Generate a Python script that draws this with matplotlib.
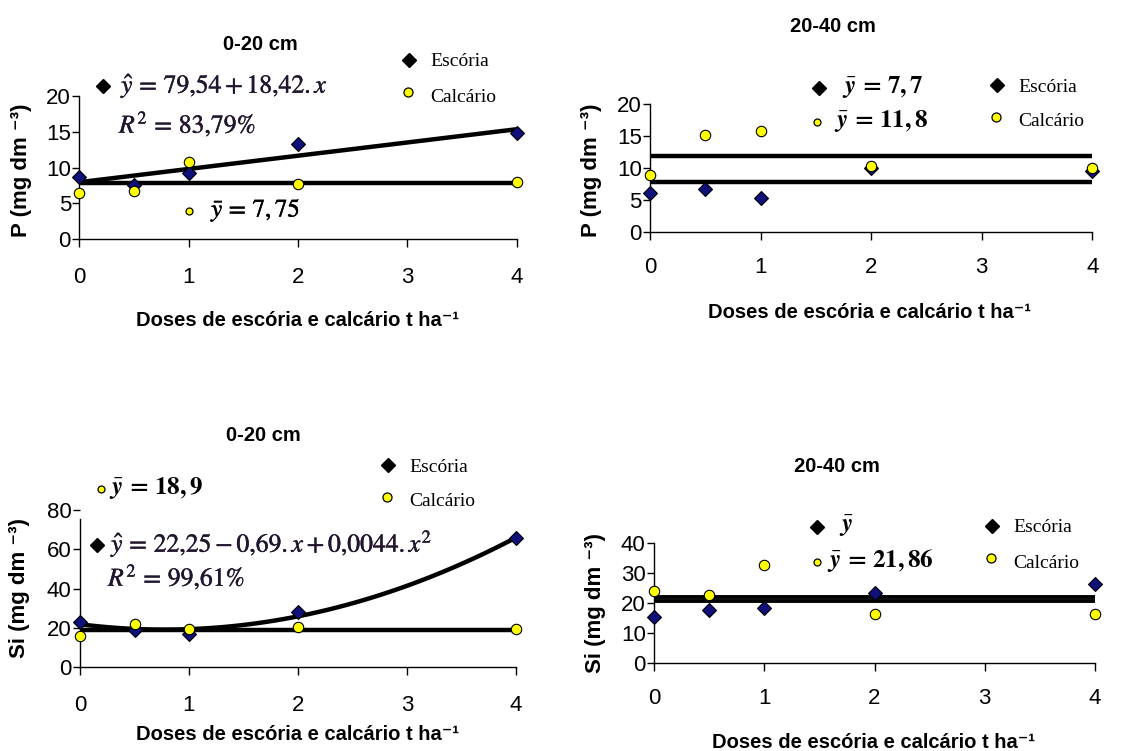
import numpy as np
import matplotlib
matplotlib.use("Agg")
import matplotlib.pyplot as plt
import matplotlib.patheffects as pe

plt.rcParams['font.family'] = ['Liberation Sans', 'DejaVu Sans']
plt.rcParams['mathtext.fontset'] = 'stix'

# ---------------- data ----------------
doses = [0, 0.5, 1, 2, 4]
x_ticks = [0, 1, 2, 3, 4]

p020_escoria = [8.7, 7.5, 9.3, 13.3, 14.8]
p020_calcario = [6.5, 6.7, 10.7, 7.75, 8.0]
p020_calc_mean = 7.9

p2040_escoria = [6.1, 6.8, 5.4, 10.0, 9.5]
p2040_calcario = [9.0, 15.1, 15.8, 10.4, 10.1]
p2040_esc_mean = 7.8
p2040_calc_mean = 11.95

si020_escoria = [23.2, 19.0, 16.8, 28.1, 65.6]
si020_calcario = [15.9, 22.0, 19.7, 20.7, 19.3]
si020_calc_mean = 19.0

si2040_escoria = [15.3, 17.6, 18.2, 23.3, 26.4]
si2040_calcario = [23.8, 22.6, 32.6, 16.4, 16.4]
si2040_esc_mean = 20.5
si2040_calc_mean = 21.9

p_yticks = [0, 5, 10, 15, 20]
si020_yticks = [0, 20, 40, 60, 80]
si2040_yticks = [0, 10, 20, 30, 40]

W, H = 1147, 751
fig = plt.figure(figsize=(W / 100, H / 100), dpi=100)

NAVY = '#10107a'
YEL = '#ffff00'
EQC = '#22162e'
EQ_FX = [pe.withStroke(linewidth=0.3, foreground=EQC)]


def fx(x):
    return x / W


def fy(y):
    return 1 - y / H


def make_ax(x0, x1, y0, y1, ylim, yticks, xpad):
    ax = fig.add_axes([fx(x0), fy(y1), fx(x1 - x0), (y1 - y0) / H])
    ax.set_xlim(0, 4)
    ax.set_ylim(*ylim)
    for s in ['top', 'right']:
        ax.spines[s].set_visible(False)
    for s in ['left', 'bottom']:
        ax.spines[s].set_linewidth(1.0)
        ax.spines[s].set_color('black')
    ax.set_xticks(x_ticks)
    ax.set_yticks(yticks)
    ax.tick_params(axis='x', direction='out', length=6, width=1, labelsize=16, pad=xpad)
    ax.tick_params(axis='y', direction='out', length=5, width=1, labelsize=16, pad=1)
    ax.patch.set_alpha(0)
    return ax


def scatter_pts(ax, esc, calc):
    ax.plot(doses, esc, linestyle='none', marker='D', ms=6.8, mfc=NAVY, mec='black', mew=0.8,
            clip_on=False, zorder=4)
    ax.plot(doses, calc, linestyle='none', marker='o', ms=7.5, mfc=YEL, mec='black', mew=0.8,
            clip_on=False, zorder=5)


def hline(ax, level, lw=3.2):
    ax.plot([0, 4], [level, level], color='black', lw=lw, solid_capstyle='butt', zorder=3)


def fig_marker(x, y, kind, size):
    if kind == 'D':
        fig.add_artist(plt.Line2D([fx(x)], [fy(y)], marker='D', ms=size, mfc='black', mec='black',
                                  linestyle='none', transform=fig.transFigure))
    else:
        fig.add_artist(plt.Line2D([fx(x)], [fy(y)], marker='o', ms=size, mfc=YEL, mec='black', mew=0.9,
                                  linestyle='none', transform=fig.transFigure))


def legend(xm, ye, yc, xt):
    fig_marker(xm, ye, 'D', 6.8)
    fig_marker(xm - 1, yc, 'o', 6.5)
    fig.text(fx(xt), fy(ye + 2), 'Escória', family='Liberation Serif', fontsize=14, va='center', ha='left')
    fig.text(fx(xt), fy(yc + 5), 'Calcário', family='Liberation Serif', fontsize=14, va='center', ha='left')


def eq(x, y, s, size=18.5):
    fig.text(fx(x), fy(y), s, fontsize=size, color=EQC, va='center', path_effects=EQ_FX)


def ybar(x, y, s, size=18):
    fig.text(fx(x), fy(y), s, fontsize=size, va='center', color='black')


bold = dict(fontweight='bold', fontsize=14.5)
ybold = dict(fontweight='bold', fontsize=16)
xlabel = 'Doses de escória e calcário t ha⁻¹'
BY = r'\bar{\mathbfit{y}}'

# ---------------- panel 1: P 0-20 ----------------
ax1 = make_ax(79.3, 516.7, 95.7, 239.3, (0, 20), p_yticks, 14)
scatter_pts(ax1, p020_escoria, p020_calcario)
hline(ax1, p020_calc_mean)
xx = np.linspace(0, 4, 50)
c1 = np.polyfit(doses, p020_escoria, 1)
ax1.plot(xx, np.polyval(c1, xx), color='black', lw=3.2, zorder=3)
fig.text(fx(260), fy(45), '0-20 cm', ha='center', va='center', **bold)
legend(409, 60, 92, 430)
fig_marker(103, 86, 'D', 6.8)
eq(121, 86, r'$\hat{y}\,=\,79{,}54+18{,}42.x$')
eq(119, 124, r'$R^{2}\,=\,83{,}79\%$')
fig_marker(189, 211, 'o', 5)
fig.text(fx(211), fy(210), r'$\bar{y}\,=\,7,75$', fontsize=18, va='center',
         path_effects=[pe.withStroke(linewidth=0.35, foreground='black')])
fig.text(fx(297), fy(320), xlabel, ha='center', va='center', **bold)
fig.text(fx(22), fy(170), 'P (mg dm ⁻³)', rotation=90, ha='center', va='center', **ybold)

# ---------------- panel 2: P 20-40 ----------------
ax2 = make_ax(650, 1092.3, 104, 232.3, (0, 20), p_yticks, 12)
hline(ax2, p2040_calc_mean)
hline(ax2, p2040_esc_mean)
scatter_pts(ax2, p2040_escoria, p2040_calcario)
fig.text(fx(833), fy(27), '20-40 cm', ha='center', va='center', **bold)
legend(997, 85, 117, 1018)
fig_marker(819, 88, 'D', 6.8)
ybar(842, 87, r'$' + BY + r'\,\mathbf{=\,7,7}$')
fig_marker(817, 122, 'o', 5)
ybar(834, 121, r'$' + BY + r'\,\mathbf{=\,11,8}$')
fig.text(fx(870), fy(312), xlabel, ha='center', va='center', **bold)
fig.text(fx(592), fy(170), 'P (mg dm ⁻³)', rotation=90, ha='center', va='center', **ybold)

# ---------------- panel 3: Si 0-20 ----------------
ax3 = make_ax(80, 516, 510, 667.3, (0, 80), si020_yticks, 14)
ax3.spines['left'].set_bounds(0, 75.4)
hline(ax3, si020_calc_mean)
c3 = np.polyfit(doses, si020_escoria, 2)
ax3.plot(xx, np.polyval(c3, xx), color='black', lw=3.2, zorder=3)
scatter_pts(ax3, si020_escoria, si020_calcario)
fig.text(fx(263), fy(435), '0-20 cm', ha='center', va='center', **bold)
legend(388, 465, 497, 409)
fig_marker(101, 489, 'o', 5)
ybar(109, 488, r'$' + BY + r'\,\mathbf{=\,18,9}$')
fig_marker(97, 545, 'D', 6.8)
eq(111, 544, r'$\hat{y}\,=\,22{,}25-0{,}69.x+0{,}0044.x^{2}$')
eq(108, 577, r'$R^{2}\,=\,99{,}61\%$')
fig.text(fx(297), fy(735), xlabel, ha='center', va='center', **bold)
fig.text(fx(20), fy(588), 'Si (mg dm ⁻³)', rotation=90, ha='center', va='center', **ybold)

# ---------------- panel 4: Si 20-40 ----------------
ax4 = make_ax(654, 1095, 542.7, 662.7, (0, 40), si2040_yticks, 12)
hline(ax4, si2040_calc_mean, 2.8)
hline(ax4, si2040_esc_mean, 2.8)
scatter_pts(ax4, si2040_escoria, si2040_calcario)
fig.text(fx(837), fy(467), '20-40 cm', ha='center', va='center', **bold)
legend(992, 526, 558, 1013)
fig_marker(817, 527, 'D', 6.8)
ybar(839, 526, r'$' + BY + r'$')
fig_marker(817, 562, 'o', 5)
ybar(827, 561, r'$' + BY + r'\,\mathbf{=\,21,86}$')
fig.text(fx(873), fy(743), xlabel, ha='center', va='center', **bold)
fig.text(fx(595), fy(603), 'Si (mg dm ⁻³)', rotation=90, ha='center', va='center', **ybold)

fig.savefig('out.png', dpi=100, facecolor='white')
